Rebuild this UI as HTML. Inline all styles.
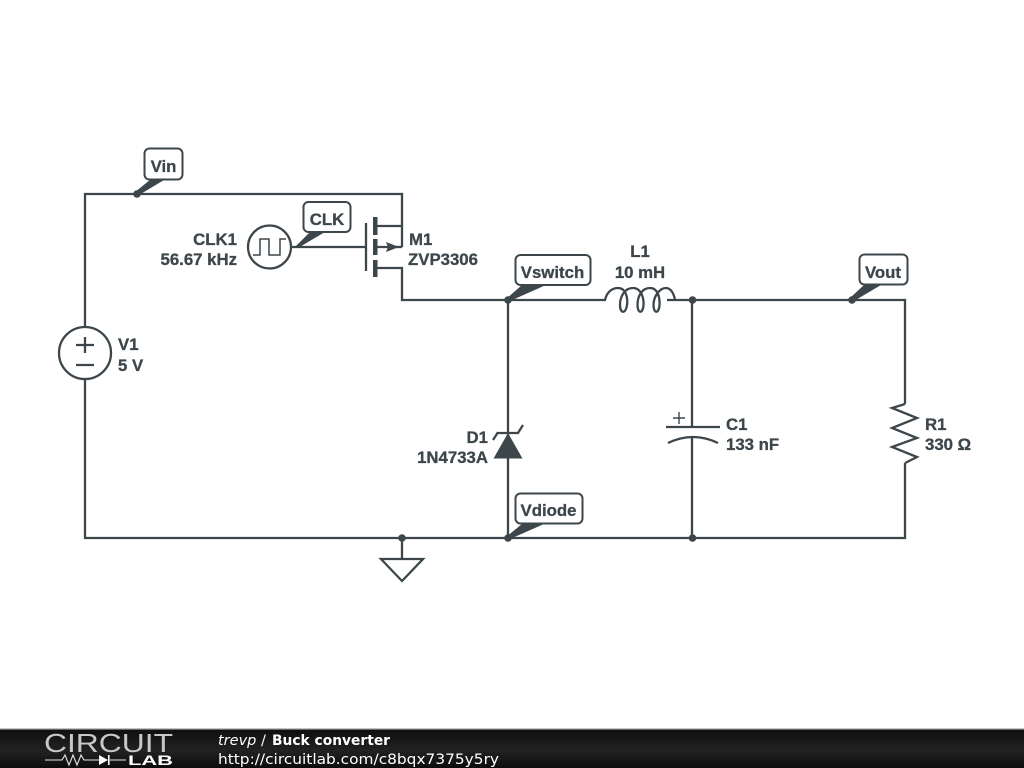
<!DOCTYPE html>
<html>
<head>
<meta charset="utf-8">
<style>
html,body{margin:0;padding:0;background:#fff;width:1024px;height:768px;overflow:hidden}
svg{display:block}
.w{fill:none;stroke:#3c464b;stroke-width:2.300;stroke-linejoin:miter}
.l{font-family:"Liberation Sans",sans-serif;font-weight:bold;font-size:16.8px;fill:#3c464b;stroke:#3c464b;stroke-width:0.3}
.b{fill:#fff;stroke:#3c464b;stroke-width:2}
.f{fill:#3c464b}
.t{font-family:"DejaVu Sans",sans-serif;font-size:14.5px;fill:#fff}
</style>
</head>
<body>
<svg width="1024" height="768" viewBox="0 0 1024 768" xmlns="http://www.w3.org/2000/svg">
<defs>
<linearGradient id="g" x1="0" y1="0" x2="0" y2="1">
<stop offset="0" stop-color="#0e0e0e"/><stop offset="0.55" stop-color="#222"/><stop offset="1" stop-color="#0c0c0c"/>
</linearGradient>
</defs>
<rect width="1024" height="768" fill="#fff"/>

<!-- wires -->
<path class="w" d="M85 327V194H402V247M375 226H402M375 247H388M375 268H402V300H606M85 379V538H905V463M905 404V300H667M508 300V538M692 300V427M692 438V538M402 538V559M291 247H366"/>

<!-- V1 -->
<circle class="w" cx="85" cy="353" r="26"/>
<path class="w" d="M76 345H94M85 337V353M76 365H94"/>

<!-- CLK1 -->
<circle class="w" cx="269.500" cy="247" r="21.500"/>
<path fill="none" stroke="#3c464b" stroke-width="1.500" d="M253 255H260V239H269V255H280V239H286"/>

<!-- M1 -->
<rect class="f" x="373" y="217" width="4.500" height="18"/>
<rect class="f" x="373" y="239" width="4.500" height="16"/>
<rect class="f" x="373" y="260" width="4.500" height="17"/>
<path class="w" d="M366 223V271"/>
<path class="w" d="M388 247H402"/>
<path class="f" d="M386 242L399 247L386 252L388 247Z"/>

<!-- Inductor -->
<path class="w" d="M605 300C607 291 613 288 618 288C626 288 628 298 627 305C626 314 620 314 620 305C620 296 625 288 633 288C641 288 644 298 643.500 305C643 314 637.500 314 637.500 305C637.500 296 642 288 650 288C658 288 660 298 659.500 305C659 314 653.500 314 653.500 305C653.500 296 660 288 666 288C671 288 674 294 675 300"/>

<!-- C1 -->
<path class="w" d="M666 427H720"/>
<path class="w" d="M668 443Q693 431 718 443"/>
<path fill="none" stroke="#3c464b" stroke-width="1.400" d="M673 418H685M679 412V424"/>

<!-- D1 -->
<path class="f" d="M508 433L522.500 458.500H493.500Z"/>
<path class="w" d="M493 440L497.500 433H518L523 425"/>

<!-- R1 -->
<path class="w" d="M905 404L892 408L917 418L892 428L917 438L892 447L917 457L905 463"/>

<!-- Ground -->
<path class="w" d="M381 559H423L402 581Z"/>

<!-- dots -->
<g class="f">
<circle cx="137" cy="194" r="3.800"/>
<circle cx="508" cy="300" r="3.800"/>
<circle cx="692.500" cy="300" r="3.800"/>
<circle cx="852" cy="300" r="3.800"/>
<circle cx="402" cy="538" r="3.800"/>
<circle cx="508" cy="538" r="3.800"/>
<circle cx="692.500" cy="538" r="3.800"/>
</g>

<!-- callouts -->
<path class="f" d="M135 192L150 180H164L139 195Z"/>
<rect class="b" x="144.500" y="148.500" width="38" height="31" rx="5"/>
<text class="l" x="163.500" y="172" text-anchor="middle">Vin</text>

<path class="f" d="M296 246L310 232H325L298 248Z"/>
<rect class="b" x="303.500" y="202" width="47" height="30" rx="5"/>
<text class="l" x="327" y="225" text-anchor="middle">CLK</text>

<path class="f" d="M506 299L522 285H546L510 301Z"/>
<rect class="b" x="515.500" y="255" width="75" height="30" rx="5"/>
<text class="l" x="552.500" y="278" text-anchor="middle">Vswitch</text>

<path class="f" d="M850 298L864 285H881L854 301Z"/>
<rect class="b" x="859.500" y="254.500" width="48" height="30" rx="5"/>
<text class="l" x="883" y="278" text-anchor="middle">Vout</text>

<path class="f" d="M506 537L522 524H544L510 539Z"/>
<rect class="b" x="515.500" y="493.500" width="67" height="30" rx="5"/>
<text class="l" x="548.500" y="516" text-anchor="middle">Vdiode</text>

<!-- labels -->
<text class="l" x="237" y="245" text-anchor="end">CLK1</text>
<text class="l" x="237" y="265" text-anchor="end">56.67 kHz</text>
<text class="l" x="409" y="245">M1</text>
<text class="l" x="408" y="265">ZVP3306</text>
<text class="l" x="640" y="257" text-anchor="middle">L1</text>
<text class="l" x="640" y="278" text-anchor="middle">10 mH</text>
<text class="l" x="118" y="350">V1</text>
<text class="l" x="118" y="371">5 V</text>
<text class="l" x="488" y="443" text-anchor="end">D1</text>
<text class="l" x="488" y="463" text-anchor="end">1N4733A</text>
<text class="l" x="726" y="430">C1</text>
<text class="l" x="726" y="450">133 nF</text>
<text class="l" x="925" y="430">R1</text>
<text class="l" x="925" y="450">330 Ω</text>

<!-- footer -->
<rect x="0" y="729" width="1024" height="39" fill="url(#g)"/>
<rect x="0" y="728" width="1024" height="1.500" fill="#c4c4c4"/>
<text x="44" y="752" font-family="Liberation Sans,sans-serif" font-size="26" fill="#c8c8c8" textLength="129" lengthAdjust="spacingAndGlyphs">CIRCUIT</text>
<path fill="none" stroke="#e8e8e8" stroke-width="1.100" d="M45 760H62L65 755L69 765L73 755L77 765L81 755L84 760H100M110 760H126"/>
<path fill="#fff" d="M99 755L108 760L99 765Z"/>
<rect x="108" y="755" width="1.600" height="10" fill="#fff"/>
<text x="128" y="765" font-family="Liberation Sans,sans-serif" font-weight="bold" font-size="14" fill="#fff" textLength="45" lengthAdjust="spacingAndGlyphs">LAB</text>
<text class="t" x="218" y="745"><tspan font-style="italic">trevp</tspan> / </text>
<text class="t" x="272" y="745" font-weight="bold" textLength="118" lengthAdjust="spacingAndGlyphs">Buck converter</text>
<text class="t" x="218" y="764" textLength="281" lengthAdjust="spacingAndGlyphs">http://circuitlab.com/c8bqx7375y5ry</text>
</svg>
</body>
</html>
